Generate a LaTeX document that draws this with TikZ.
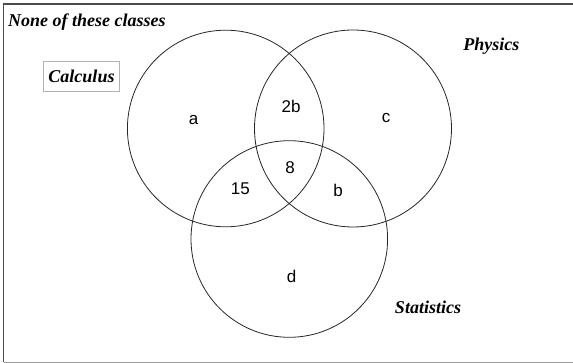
\documentclass[tikz,border=0pt]{standalone}
\usepackage{fontspec}
\setmainfont{Liberation Serif}
\newfontfamily\labfont{Liberation Sans}
\begin{document}
\begin{tikzpicture}[x=1pt,y=-1pt,
  setcircle/.style={draw=black!85,line width=0.8pt},
  title/.style={font=\fontsize{18}{20}\selectfont\bfseries\itshape,inner sep=0pt,anchor=base},
  region/.style={font=\labfont\fontsize{17}{19}\selectfont,inner sep=0pt,anchor=base}]
\useasboundingbox (0,0) rectangle (573,363);
% frame
\draw[draw=black!70,line width=1.2pt] (3.5,362) -- (3.5,4) -- (573,4);
\draw[draw=black!40,line width=1pt] (3.5,362) -- (573,362);
% circles
\draw[setcircle] (225.7,128.5) circle (98.3);
\draw[setcircle] (353,128.5) circle (98.5);
\draw[setcircle] (289.3,239) circle (98.3);
% titles
\node[title,anchor=base west] (none) at (8,26.5) {None of these classes};
\node[title,draw=black!30,line width=1pt,inner xsep=4.5pt,inner ysep=0pt,minimum height=30pt,anchor=center] (calc) at (81.5,76.7) {Calculus};
\node[title] (phys) at (491.3,51) {Physics};
\node[title] (stat) at (428,314) {Statistics};
% region labels
\node[region] (a) at (193.5,125) {a};
\node[region] (twob) at (291,112.7) {2b};
\node[region] (c) at (386,123) {c};
\node[region] (eight) at (290,173.3) {8};
\node[region] (fifteen) at (240.3,194.7) {15};
\node[region] (b) at (338,196.7) {b};
\node[region] (d) at (291.5,282.3) {d};
\end{tikzpicture}
\end{document}
